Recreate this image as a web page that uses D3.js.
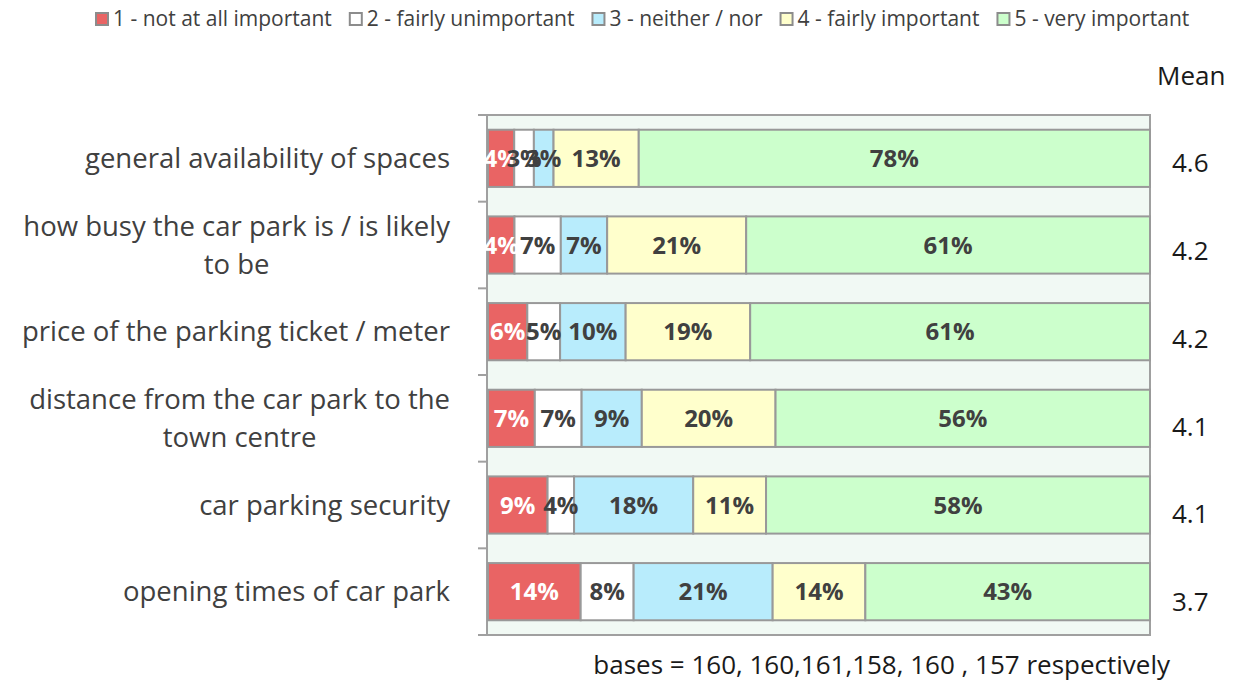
<!DOCTYPE html>
<html>
<head>
<meta charset="utf-8">
<script src="https://cdn.jsdelivr.net/npm/d3@7"></script>
<style>
  body { margin: 0; background: #fff; }
  svg { display: block; font-family: "Open Sans", sans-serif; }
</style>
</head>
<body>
<svg id="chart" width="1236" height="680"></svg>
<script>
// data
const categories = [
  'general availability of spaces',
  'how busy the car park is / is likely|to be',
  'price of the parking ticket / meter',
  'distance from the car park to the|town centre',
  'car parking security',
  'opening times of car park'
];
const seriesNames = ['1 - not at all important', '2 - fairly unimportant', '3 - neither / nor', '4 - fairly important', '5 - very important'];
const notAtAll   = [4, 4, 6, 7, 9, 14];
const fairlyUnim = [3, 7, 5, 7, 4, 8];
const neither    = [3, 7, 10, 9, 18, 21];
const fairlyImp  = [13, 21, 19, 20, 11, 14];
const veryImp    = [78, 61, 61, 56, 58, 43];
const means = ['4.6', '4.2', '4.2', '4.1', '4.1', '3.7'];
const footnote = 'bases = 160, 160,161,158, 160 , 157 respectively';

const COLORS = ['#e96464', '#ffffff', '#b8ecfc', '#ffffcc', '#ccffcc'];
const LABEL_COLORS = ['#ffffff', '#404040', '#404040', '#404040', '#404040'];

const svg = d3.select('#chart');
const plot = { left: 487, right: 1150, top: 115, bottom: 635 };

const rows = categories.map((c, i) => ({
  cat: c, s0: notAtAll[i], s1: fairlyUnim[i], s2: neither[i], s3: fairlyImp[i], s4: veryImp[i]
}));
const keys = ['s0', 's1', 's2', 's3', 's4'];
const stacked = d3.stack().keys(keys).offset(d3.stackOffsetExpand)(rows);

const x = d3.scaleLinear().domain([0, 1]).range([plot.left + 1, plot.right]);
const y = d3.scaleBand().domain(categories).range([plot.top, plot.bottom]).paddingInner(0.34).paddingOuter(0.17);

// plot background
svg.append('rect')
  .attr('x', plot.left).attr('y', plot.top)
  .attr('width', plot.right - plot.left).attr('height', plot.bottom - plot.top)
  .attr('fill', '#f1f9f4').attr('stroke', '#a0a0a0').attr('stroke-width', 2);

// left axis with ticks at category boundaries
const bounds = d3.range(categories.length + 1).map(i => plot.top + i * (plot.bottom - plot.top) / categories.length);
svg.append('g').selectAll('line').data(bounds).enter().append('line')
  .attr('x1', plot.left - 9).attr('x2', plot.left)
  .attr('y1', d => d).attr('y2', d => d)
  .attr('stroke', '#a0a0a0').attr('stroke-width', 2);
svg.append('line')
  .attr('x1', plot.left).attr('x2', plot.left)
  .attr('y1', plot.top).attr('y2', plot.bottom)
  .attr('stroke', '#a0a0a0').attr('stroke-width', 2);

// bars
const layer = svg.append('g').selectAll('g').data(stacked).enter().append('g')
  .attr('fill', (d, i) => COLORS[i]);
layer.selectAll('rect').data(d => d).enter().append('rect')
  .attr('x', d => x(d[0])).attr('y', d => y(d.data.cat))
  .attr('width', d => x(d[1]) - x(d[0])).attr('height', y.bandwidth())
  .attr('stroke', '#999').attr('stroke-width', 2);

// data labels
stacked.forEach((s, si) => {
  svg.append('g').selectAll('text').data(s).enter().append('text')
    .attr('x', d => (x(d[0]) + x(d[1])) / 2)
    .attr('y', d => y(d.data.cat) + y.bandwidth() / 2)
    .attr('dy', '0.36em').attr('text-anchor', 'middle')
    .attr('font-size', 24).attr('font-weight', 'bold')
    .attr('fill', LABEL_COLORS[si])
    .text(d => d.data[s.key] + '%');
});

// category labels (wrapped ones centred on their widest line)
const catG = svg.append('g');
categories.forEach(c => {
  const lines = c.split('|');
  const cy = y(c) + y.bandwidth() / 2;
  const t = catG.append('text').attr('font-size', 27.5).attr('fill', '#404040');
  const lh = 38;
  const spans = lines.map((l, i) => t.append('tspan')
    .attr('y', cy + (i - (lines.length - 1) / 2) * lh).attr('dy', '0.35em').text(l));
  if (lines.length === 1) {
    t.attr('text-anchor', 'end').selectAll('tspan').attr('x', 450);
  } else {
    const w = d3.max(spans, s => s.node().getComputedTextLength());
    t.attr('text-anchor', 'middle').selectAll('tspan').attr('x', 450 - w / 2);
  }
});

// means
const my = d3.scalePoint().domain(categories).range([163, 602]);
svg.append('g').selectAll('text').data(categories).enter().append('text')
  .attr('x', 1172).attr('y', d => my(d)).attr('dy', '0.35em')
  .attr('font-size', 26).attr('fill', '#1a1a1a')
  .text((d, i) => means[i]);
svg.append('text').attr('x', 1157).attr('y', 76).attr('dy', '0.35em')
  .attr('font-size', 26).attr('fill', '#1a1a1a').text('Mean');

// footnote
svg.append('text').attr('x', 1170).attr('y', 665).attr('dy', '0.35em')
  .attr('text-anchor', 'end').attr('font-size', 26).attr('fill', '#1a1a1a').text(footnote);

// legend
const leg = svg.append('g').attr('transform', 'translate(96,19)');
let lx = 0;
seriesNames.forEach((n, i) => {
  const g = leg.append('g').attr('transform', `translate(${lx},0)`);
  g.append('rect').attr('x', 0).attr('y', -6).attr('width', 12).attr('height', 12)
    .attr('fill', COLORS[i]).attr('stroke', '#8c8c8c').attr('stroke-width', 2);
  const t = g.append('text').attr('x', 17).attr('dy', '0.35em')
    .attr('font-size', 21).attr('fill', '#404040').text(n);
  lx += 17 + t.node().getComputedTextLength() + 18;
});
</script>
</body>
</html>
